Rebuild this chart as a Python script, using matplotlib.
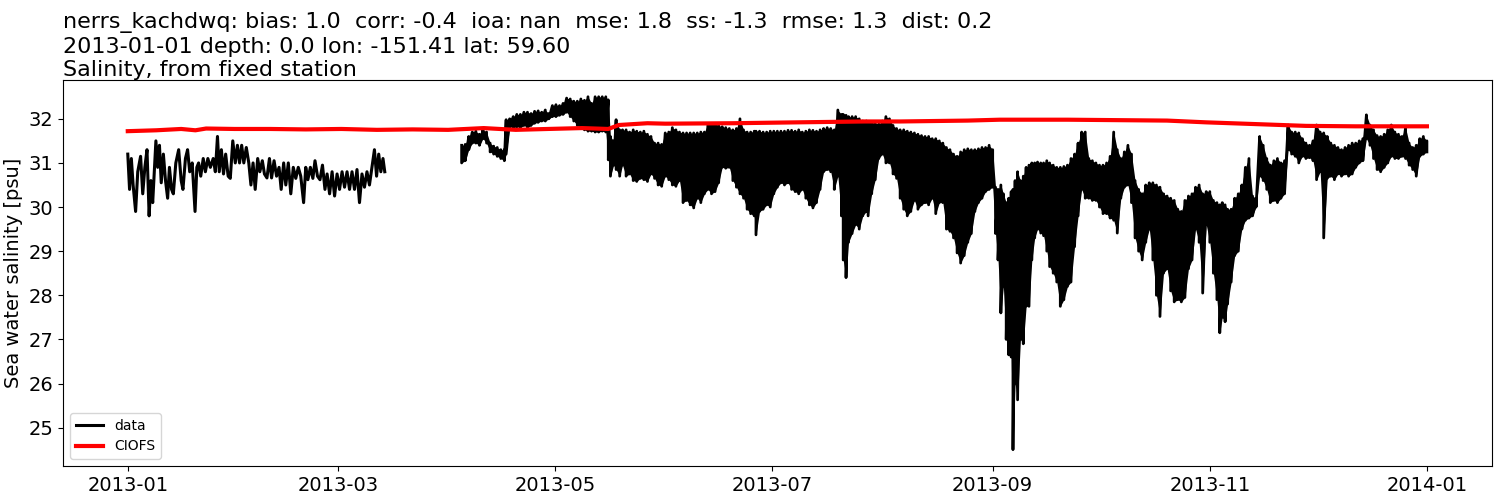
import numpy as np
import pandas as pd
import matplotlib
matplotlib.use("Agg")
from matplotlib import pyplot as plt
import matplotlib.dates as mdates

# days counted from 2013-01-01
# --- observed salinity, first stretch (Jan - mid Mar), read off the plot
seg1_day = [0.0, 0.5, 1.0, 1.5, 2.2, 2.8, 3.6, 4.2, 4.8, 5.4, 6.0, 6.5, 7.0, 7.9, 8.4, 8.9,
            9.4, 10.0, 10.6, 11.2, 11.7, 12.3, 12.8, 13.5, 14.3, 15.0, 15.5, 16.2, 16.8,
            17.4, 18.1, 18.9, 19.4, 19.9, 20.5, 21.2, 21.8, 22.5, 23.2, 24.0, 24.6, 25.2,
            25.7, 26.3, 26.9, 27.5, 28.2, 28.8, 29.5, 30.2, 30.8, 31.4, 32.0, 32.6, 33.3,
            34.0, 34.6, 35.2, 35.8, 36.5, 37.1, 37.8, 38.4, 39.1, 39.8, 40.4, 41.1, 41.8,
            42.5, 43.1, 43.8, 44.4, 45.1, 45.8, 46.5, 47.2, 47.9, 48.6, 49.4, 50.0, 50.6,
            51.3, 52.0, 52.6, 53.3, 54.0, 54.7, 55.4, 56.0, 56.7, 57.4, 58.1, 58.8, 59.5,
            60.2, 60.9, 61.6, 62.3, 63.0, 63.7, 64.4, 65.1, 65.8, 66.5, 67.2, 67.9, 68.6,
            69.3, 69.9, 70.5, 71.1, 71.7, 72.2]
seg1_sal = [31.2, 30.4, 31.1, 30.5, 29.9, 30.8, 31.15, 30.3, 30.9, 31.3, 29.8, 30.6, 30.1,
            31.5, 30.9, 31.4, 30.55, 31.2, 30.6, 30.2, 30.9, 30.4, 30.3, 31.0, 31.3, 30.6,
            30.4, 31.1, 31.3, 30.8, 31.0, 29.9, 30.9, 31.0, 30.7, 31.1, 30.8, 31.1, 30.9,
            31.1, 30.8, 31.6, 30.8, 31.3, 30.75, 31.2, 30.7, 30.65, 31.5, 31.0, 31.4, 31.0,
            31.4, 31.0, 31.35, 31.0, 30.5, 31.0, 30.4, 31.1, 30.8, 31.05, 30.75, 30.66,
            31.1, 30.66, 31.05, 30.7, 30.9, 30.4, 31.0, 30.5, 31.0, 30.3, 30.9, 30.65, 30.9,
            30.7, 30.1, 30.9, 30.62, 30.9, 30.65, 31.05, 30.7, 30.62, 30.95, 30.4, 30.75,
            30.3, 30.8, 30.25, 30.75, 30.4, 30.8, 30.45, 30.8, 30.4, 30.8, 30.4, 30.85, 30.1,
            30.75, 30.45, 30.8, 30.5, 30.9, 31.3, 30.7, 31.2, 30.8, 31.1, 30.8]

# --- observed salinity, April - December: tidal highs and lows per day
seg2_day = [93.8, 94.8, 95.8, 96.8, 97.8, 98.8, 99.8, 100.8, 101.8, 102.8, 103.8, 104.8, 105.8,
            106.3, 107.3, 108.3, 109.3, 110.3, 111.3, 112.3, 113.3, 114.3, 115.3, 116.3,
            117.3, 118.3, 119.3, 120.3, 121.3, 122.3, 123.3, 124.3, 125.3, 126.3, 127.3,
            128.3, 129.3, 130.3, 131.3, 132.3, 133.3, 134.3,
            135.0, 135.6, 136.5, 137.2, 138.2, 139.0, 140.0, 141.0, 142.0, 143.0, 144.0,
            145.0, 146.0, 147.0, 148.0, 149.0, 150.0, 151.0, 152.0, 153.0, 154.0, 155.0,
            156.0, 157.0, 158.0, 159.0, 160.0, 161.0, 162.0, 163.0, 164.0, 165.0, 166.0,
            167.0, 168.0, 169.0, 170.0, 171.0, 172.0, 173.0, 174.0, 175.0, 176.0, 176.5,
            177.5, 178.5, 179.5, 180.5, 181.5, 182.5, 183.5, 184.5, 185.5, 186.5, 187.5,
            188.5, 189.5, 190.5, 191.5, 192.5, 193.5, 194.5, 195.5, 196.5, 197.5, 198.5,
            199.5, 200.5, 201.0, 201.8, 202.5, 203.5, 204.5, 205.5, 206.5, 207.5,
            208.0, 209.0, 210.0, 211.0, 212.0, 213.0, 214.0, 215.0, 216.0, 217.0, 218.0,
            219.0, 220.0, 221.0, 222.0, 223.0, 224.0, 225.0, 226.0, 227.0, 228.0, 229.0,
            230.0, 231.0, 232.0, 233.0, 234.0, 235.0, 236.0, 237.0, 238.0, 239.0, 240.0,
            241.0, 242.0, 243.0, 243.8, 244.5, 245.3, 246.0, 246.8, 247.5, 248.2, 248.7,
            249.3, 250.0, 250.8, 251.6, 252.4, 253.2, 254.0, 254.8, 255.6, 256.5, 257.3,
            258.2, 259.0, 260.0, 261.0, 262.0, 263.0, 264.0, 265.0, 266.0, 267.0, 268.0,
            269.0, 270.0, 271.0, 272.0, 273.0, 274.0, 275.0, 276.0, 277.0, 278.0, 279.0,
            280.0, 281.0, 282.0, 283.0, 284.0, 285.0, 286.0, 287.0, 288.0, 289.0, 290.0,
            291.0, 292.0, 293.0, 294.0, 295.0, 296.0, 297.0, 298.0, 299.0, 300.0, 301.0,
            302.0, 303.0, 304.0, 305.0, 306.0, 306.8, 307.5, 308.3, 309.0, 310.0, 311.0,
            312.0, 313.0, 314.0, 315.0, 316.0, 317.0, 318.0, 319.0, 320.0, 321.0, 322.0,
            323.0, 324.0, 325.0, 326.0, 327.0, 328.0, 329.0, 330.0, 331.0, 332.0, 333.0,
            334.0, 335.0, 336.0, 337.0, 338.0, 339.0, 340.0, 341.0, 342.0, 343.0, 344.0,
            345.0, 346.0, 347.0, 348.0, 349.0, 350.0, 351.0, 352.0, 353.0, 354.0, 355.0,
            356.0, 357.0, 358.0, 359.0, 360.0, 361.0, 362.0, 363.0, 364.0, 365.0]
seg2_hi = [31.40, 31.42, 31.60, 31.70, 31.72, 31.65, 31.75, 31.70, 31.45, 31.38, 31.35, 31.30, 31.30,
           31.98, 32.00, 32.05, 32.10, 32.10, 32.15, 32.15, 32.12, 32.17, 32.18, 32.15,
           32.20, 32.12, 32.30, 32.32, 32.30, 32.35, 32.47, 32.45, 32.40, 32.40, 32.45,
           32.42, 32.50, 32.35, 32.50, 32.50, 32.50, 32.50,
           32.43, 31.60, 31.50, 31.98, 31.75, 31.75, 31.75, 31.70, 31.75, 31.72, 31.70,
           31.72, 31.65, 31.60, 31.45, 31.45, 31.42, 31.68, 31.70, 31.80, 31.75, 31.70,
           31.68, 31.68, 31.68, 31.68, 31.68, 31.70, 31.70, 31.88, 31.88, 31.88, 31.85,
           31.82, 31.80, 31.78, 31.75, 31.78, 32.00, 31.75, 31.70, 31.70, 31.72, 31.72,
           31.72, 31.70, 31.70, 31.72, 31.72, 31.72, 31.72, 31.72, 31.74, 31.74, 31.72,
           31.75, 31.70, 31.72, 31.75, 31.74, 31.72, 31.75, 31.78, 31.80, 31.78, 31.75,
           32.20, 32.10, 32.10, 32.08, 32.05, 32.05, 32.05, 32.00, 31.95, 31.95,
           31.93, 31.92, 31.90, 31.88, 31.95, 32.05, 32.00, 31.85, 31.78, 31.75, 31.75,
           31.72, 31.70, 31.68, 31.65, 31.62, 31.60, 31.60, 31.55, 31.55, 31.50, 31.45,
           31.35, 31.30, 31.20, 31.15, 31.25, 31.30, 31.32, 31.30, 31.30, 31.32, 31.35,
           31.35, 31.40, 31.30, 30.45, 30.40, 30.50, 30.30, 30.10, 30.20, 30.35, 30.40,
           30.60, 30.80, 30.60, 30.70, 30.90, 30.95, 31.00, 31.00, 31.02, 31.00, 31.00,
           31.05, 31.00, 30.95, 30.90, 30.90, 30.92, 30.95, 31.10, 31.20, 31.45, 31.70,
           31.70, 31.10, 31.05, 31.00, 30.95, 30.95, 31.00, 31.15, 31.70, 31.30, 31.10,
           31.25, 31.40, 31.20, 30.60, 30.40, 30.30, 30.50, 30.55, 30.55, 30.50, 30.45,
           30.30, 30.25, 30.20, 30.15, 29.95, 29.90, 30.15, 30.25, 30.30, 30.45, 30.50,
           30.30, 30.35, 30.35, 30.15, 30.10, 30.05, 30.10, 30.05, 29.95, 29.95, 30.20,
           30.30, 30.50, 30.90, 31.10, 30.25, 30.20, 31.60, 31.40, 31.10, 30.95, 31.05,
           31.10, 31.00, 31.05, 31.86, 31.70, 31.70, 31.68, 31.55, 31.45, 31.40, 31.50,
           31.86, 31.70, 31.68, 31.60, 31.45, 31.40, 31.35, 31.30, 31.35, 31.40, 31.45,
           31.45, 31.50, 31.55, 32.09, 31.86, 31.75, 31.62, 31.60, 31.65, 31.75, 31.86,
           31.70, 31.65, 31.60, 31.80, 31.45, 31.35, 31.40, 31.55, 31.60, 31.50]
seg2_lo = [31.00, 31.05, 31.30, 31.45, 31.45, 31.40, 31.55, 31.45, 31.25, 31.20, 31.15, 31.10, 31.05,
           31.20, 31.82, 31.80, 31.82, 31.80, 31.85, 31.80, 31.85, 31.90, 31.92, 31.95,
           31.95, 32.00, 32.05, 32.05, 32.08, 32.10, 32.15, 32.05, 31.95, 31.85, 31.78,
           31.75, 31.72, 31.72, 31.70, 31.70, 31.72, 31.70,
           31.07, 30.70, 30.95, 30.85, 30.70, 30.95, 30.70, 30.75, 30.60, 30.58, 30.65,
           30.62, 30.58, 30.75, 30.65, 30.50, 30.47, 30.70, 30.62, 30.50, 30.47, 30.60,
           30.10, 30.15, 30.05, 29.98, 30.20, 30.10, 30.30, 30.40, 30.30, 30.35, 30.55,
           30.90, 30.88, 30.90, 30.60, 30.45, 30.30, 30.20, 29.95, 29.85, 29.80, 29.37,
           29.90, 29.95, 30.05, 30.00, 30.30, 30.45, 30.55, 30.50, 30.55, 30.40, 30.35,
           30.30, 30.40, 30.20, 30.05, 29.98, 30.10, 30.40, 30.80, 30.85, 30.80, 30.40,
           30.70, 29.80, 28.80, 28.40, 29.20, 29.40, 29.60, 29.50, 29.80, 29.90,
           29.80, 30.30, 30.62, 31.10, 31.20, 31.00, 31.00, 30.75, 30.65, 30.20, 29.95,
           29.80, 29.90, 30.15, 29.95, 30.05, 30.10, 30.05, 30.20, 29.85, 30.10, 30.10,
           29.50, 29.45, 29.30, 28.96, 28.73, 28.90, 29.20, 29.40, 29.90, 30.10, 30.20,
           30.35, 30.40, 30.45, 29.40, 28.80, 27.60, 28.20, 27.00, 26.65, 26.60, 24.50,
           26.00, 25.63, 27.00, 26.90, 27.75, 27.75, 28.80, 29.30, 29.50, 29.41, 29.35,
           29.00, 28.65, 28.50, 28.30, 27.75, 27.90, 28.20, 28.30, 29.10, 29.80, 30.40,
           30.20, 30.20, 30.15, 30.15, 30.00, 29.85, 29.85, 29.75, 29.70, 29.41, 30.20,
           30.45, 30.50, 30.10, 29.30, 29.00, 28.80, 29.20, 29.50, 28.80, 28.00, 27.52,
           28.50, 28.60, 28.10, 27.85, 27.90, 27.85, 27.95, 28.60, 28.80, 29.50, 29.20,
           28.05, 29.60, 29.20, 28.50, 27.90, 27.15, 27.50, 27.40, 27.80, 28.30, 28.90,
           29.00, 29.50, 29.70, 29.75, 29.80, 30.00, 30.70, 30.60, 30.40, 30.10, 30.15,
           30.10, 30.20, 30.30, 31.30, 31.20, 31.15, 31.00, 31.15, 31.10, 31.12, 31.05,
           30.62, 30.80, 29.30, 30.65, 30.70, 30.62, 30.75, 30.70, 30.75, 30.70, 30.75,
           30.90, 31.00, 31.05, 31.55, 31.40, 31.10, 30.85, 30.80, 30.90, 31.00, 31.15,
           31.10, 31.10, 31.15, 31.10, 30.95, 30.85, 30.70, 31.15, 31.20, 31.25]

# --- CIOFS model salinity
model_day = [0, 8, 15, 19, 22, 30, 40, 50, 60, 70, 80, 90, 100, 109, 118, 127.6, 135, 138,
             146, 151, 170, 188, 207, 217, 236, 245, 264, 292, 303, 317, 331, 345, 365]
model_sal = [31.72, 31.74, 31.77, 31.74, 31.78, 31.77, 31.77, 31.76, 31.77, 31.75, 31.76,
             31.75, 31.79, 31.75, 31.77, 31.79, 31.77, 31.86, 31.90, 31.89, 31.90, 31.92,
             31.94, 31.94, 31.96, 31.98, 31.98, 31.96, 31.92, 31.88, 31.84, 31.83, 31.83]

title_text = ("nerrs_kachdwq: bias: 1.0  corr: -0.4  ioa: nan  mse: 1.8  ss: -1.3  rmse: 1.3  dist: 0.2\n"
              "2013-01-01 depth: 0.0 lon: -151.41 lat: 59.60\n"
              "Salinity, from fixed station")

start = pd.Timestamp("2013-01-01")


def to_dates(days):
    return start + pd.to_timedelta(np.asarray(days, dtype=float), unit="D")


t1 = to_dates(seg1_day)
t2 = to_dates(seg2_day)
tm = to_dates(model_day)

# zig-zag through each day's high and low
zz_t = to_dates(np.repeat(seg2_day, 2))
zz_v = np.column_stack([seg2_hi, seg2_lo]).ravel()

fig = plt.figure(figsize=(15, 5), dpi=100)
ax = fig.add_axes([0.042, 0.068, 0.9527, 0.772])

ax.plot(t1, seg1_sal, color="black", lw=2.2, label="data")
ax.fill_between(t2, seg2_lo, seg2_hi, color="black", lw=0)
ax.plot(zz_t, zz_v, color="black", lw=2)
ax.plot(tm, model_sal, color="red", lw=3, label="CIOFS")

ax.set_xlim(to_dates([-18.2]).values[0], to_dates([383.3]).values[0])
ax.set_ylim(24.13, 32.88)
ax.set_yticks(range(25, 33))
ax.set_xticks(pd.to_datetime(["2013-01-01", "2013-03-01", "2013-05-01", "2013-07-01",
                              "2013-09-01", "2013-11-01", "2014-01-01"]))
ax.xaxis.set_major_formatter(mdates.DateFormatter("%Y-%m"))
ax.tick_params(labelsize=14)
ax.set_ylabel("Sea water salinity [psu]", fontsize=14)
ax.set_title(title_text, loc="left", fontsize=16, pad=3)
ax.legend(loc="lower left", fontsize=10)

fig.savefig("out.png", dpi=100)
